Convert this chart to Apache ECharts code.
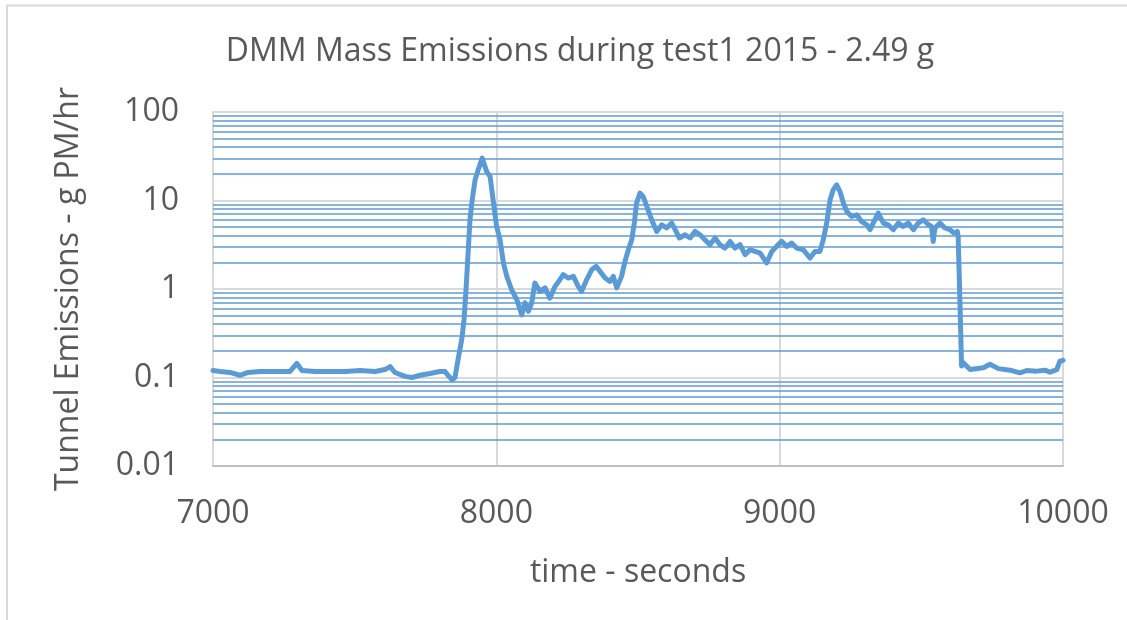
<!DOCTYPE html>
<html>
<head>
<meta charset="utf-8">
<script src="https://cdn.jsdelivr.net/npm/echarts@6/dist/echarts.min.js"></script>
<style>html,body{margin:0;padding:0;background:#fff}#c{width:1127px;height:620px}</style>
</head>
<body>
<div id="c"></div>
<script>
const titleText = 'DMM Mass Emissions during test1 2015 - 2.49 g';
const xName = 'time - seconds';
const yName = 'Tunnel Emissions - g PM/hr';
const xTicks = [7000, 8000, 9000, 10000];
const yTicks = [0.01, 0.1, 1, 10, 100];
const minorDecades = [0.01, 0.1, 1, 10];
const minorMultiples = [2, 3, 4, 5, 6, 7, 8, 9];

const times = [7000,7025,7060,7095,7124,7166,7219,7272,7296,7314,7360,7413,7466,7519,7572,7607,7625,7642,7678,7702,7731,7766,7801,7819,7829,7844,7854,7865,7878,7886,7893,7901,7907,7915,7925,7936,7950,7966,7978,7987,8001,8013,8025,8037,8054,8072,8090,8101,8113,8125,8136,8154,8172,8189,8207,8225,8236,8254,8272,8289,8301,8319,8337,8352,8366,8384,8401,8413,8425,8442,8454,8466,8478,8487,8495,8507,8518,8531,8548,8566,8584,8601,8619,8631,8646,8666,8684,8701,8719,8736,8754,8772,8789,8807,8825,8842,8860,8878,8895,8913,8931,8954,8972,8989,9007,9025,9042,9060,9083,9107,9125,9142,9154,9166,9178,9189,9201,9213,9225,9237,9254,9272,9289,9307,9319,9330,9348,9366,9383,9401,9419,9436,9454,9472,9489,9507,9525,9536,9542,9548,9566,9583,9601,9615,9627,9630,9636,9642,9647,9672,9719,9742,9772,9813,9848,9872,9907,9936,9954,9978,9989,10000];
const emissions = [0.12,0.117,0.114,0.106,0.114,0.117,0.117,0.117,0.144,0.12,0.117,0.117,0.117,0.12,0.117,0.123,0.133,0.114,0.103,0.100,0.106,0.111,0.117,0.117,0.106,0.094,0.100,0.16,0.27,0.45,0.98,2.78,6.06,10.2,17.1,22.2,30.1,21.2,18.7,11.1,5.09,3.61,1.97,1.39,0.98,0.76,0.51,0.70,0.56,0.70,1.17,0.94,1.03,0.79,1.07,1.28,1.45,1.33,1.39,1.07,0.94,1.28,1.66,1.80,1.58,1.33,1.22,1.39,1.03,1.39,2.05,2.78,3.61,5.56,9.35,12.1,11.1,8.56,6.06,4.47,5.32,4.89,5.56,4.68,3.77,4.10,3.77,4.47,4.10,3.61,3.17,3.77,3.17,2.90,3.45,2.90,3.17,2.44,2.78,2.66,2.55,1.97,2.66,3.03,3.45,3.03,3.31,2.90,2.78,2.24,2.66,2.66,3.61,5.56,10.2,13.2,15.0,12.6,9.35,7.52,6.61,6.90,5.80,5.32,4.68,5.56,7.21,5.56,5.32,4.68,5.56,5.09,5.56,4.68,5.56,6.06,5.32,5.09,3.45,4.89,5.56,4.89,4.68,4.29,4.47,3.93,0.76,0.135,0.148,0.123,0.129,0.141,0.126,0.121,0.113,0.120,0.118,0.121,0.115,0.123,0.153,0.156];

const seriesData = times.map((t, i) => [t, emissions[i]]);
const minorLines = [];
minorDecades.forEach(d => minorMultiples.forEach(m => minorLines.push({ yAxis: +(d * m).toPrecision(3) })));

const font = '"Open Sans", "Noto Sans", sans-serif';
const fs = 32;
const chart = echarts.init(document.getElementById('c'), null, { renderer: 'canvas' });
chart.setOption({
  animation: false,
  backgroundColor: '#ffffff',
  title: {
    text: titleText, left: 575, textAlign: 'center', top: 31,
    textStyle: { fontFamily: font, fontSize: fs, fontWeight: 'normal', color: '#595959' }
  },
  grid: { left: 213, right: 64, top: 112, bottom: 154, containLabel: false },
  xAxis: {
    type: 'value', min: xTicks[0], max: xTicks[xTicks.length - 1], interval: 1000,
    name: xName, nameLocation: 'middle', nameGap: 91,
    nameTextStyle: { fontFamily: font, fontSize: fs, color: '#595959' },
    axisLine: { show: true, lineStyle: { color: '#bfbfbf', width: 2 } },
    axisTick: { show: false },
    axisLabel: { fontFamily: font, fontSize: fs, color: '#595959', margin: 32,
      formatter: v => String(v) },
    splitLine: { show: true, lineStyle: { color: '#d9d9d9', width: 2 } }
  },
  yAxis: {
    type: 'log', logBase: 10, min: yTicks[0], max: yTicks[yTicks.length - 1],
    name: yName, nameLocation: 'middle', nameGap: 128, nameRotate: 90,
    nameTextStyle: { fontFamily: font, fontSize: fs, color: '#595959' },
    axisLine: { show: true, lineStyle: { color: '#d9d9d9', width: 2 } },
    axisTick: { show: false },
    axisLabel: { fontFamily: font, fontSize: fs, color: '#595959', margin: 34,
      formatter: v => String(+v.toPrecision(3)) },
    splitLine: { show: true, lineStyle: { color: '#d9d9d9', width: 2 } }
  },
  graphic: [{
    type: 'polyline', silent: true,
    shape: { points: [[7, 620], [7, 5.5], [1127, 5.5]] },
    style: { stroke: '#d9d9d9', lineWidth: 2, fill: null }
  }],
  series: [
    {
      type: 'line', data: [], silent: true, z: 1,
      markLine: {
        silent: true, symbol: ['none', 'none'], animation: false,
        label: { show: false },
        lineStyle: { color: '#5b9bd5', width: 1.5, type: 'solid' },
        emphasis: { disabled: true },
        data: minorLines
      }
    },
    {
      type: 'line', data: seriesData, z: 3,
      showSymbol: false, symbol: 'none',
      lineStyle: { color: '#5b9bd5', width: 5, join: 'round', cap: 'round' },
      itemStyle: { color: '#5b9bd5' }
    }
  ]
});
</script>
</body>
</html>
